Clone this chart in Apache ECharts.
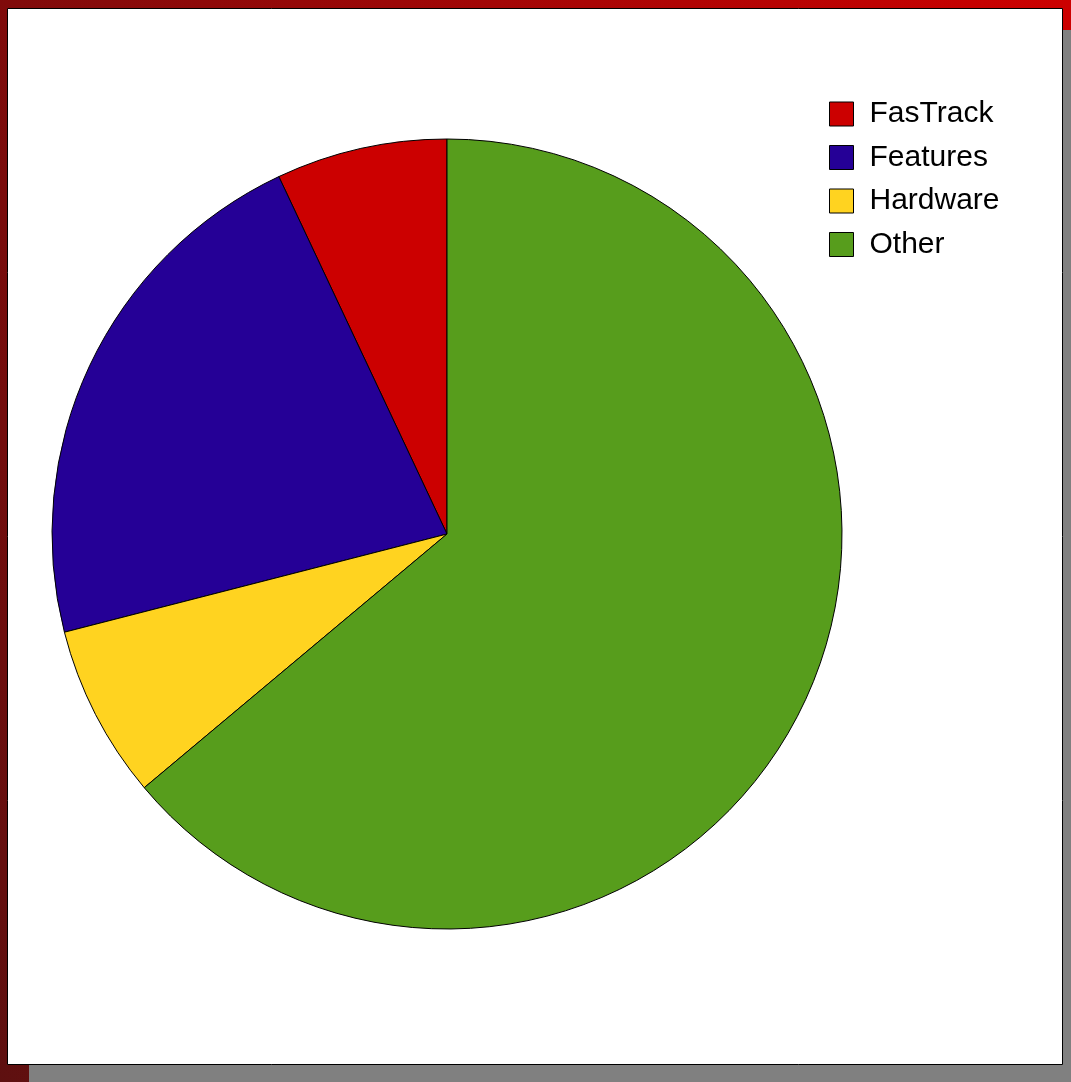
<!DOCTYPE html>
<html>
<head>
<meta charset="utf-8">
<script src="https://cdn.jsdelivr.net/npm/echarts@6/dist/echarts.min.js"></script>
<style>
  html, body { margin: 0; padding: 0; }
  #chart { width: 1071px; height: 1082px; }
</style>
</head>
<body>
<div id="chart"></div>
<script>
const categories = ['FasTrack', 'Features', 'Hardware', 'Other'];
const values = [7.0, 22.0, 7.1, 63.9];
const colors = ['#cc0000', '#250096', '#ffd320', '#579d1c'];

const chart = echarts.init(document.getElementById('chart'), null, { renderer: 'canvas' });

const option = {
  animation: false,
  graphic: [
    {
      type: 'rect', z: 0,
      shape: { x: 0, y: 0, width: 1071, height: 1082 },
      style: {
        fill: new echarts.graphic.LinearGradient(0, 1, 1.207, 0.483, [
          { offset: 0, color: '#5e1010' },
          { offset: 1, color: '#cc0000' }
        ])
      }
    },
    {
      type: 'rect', z: 1,
      shape: { x: 29, y: 30, width: 1042, height: 1052 },
      style: { fill: '#808080' }
    },
    {
      type: 'rect', z: 1,
      shape: { x: 7.5, y: 8.5, width: 1055, height: 1056 },
      style: { fill: '#ffffff', stroke: '#000000', lineWidth: 1 }
    }
  ],
  legend: {
    orient: 'vertical',
    left: 829,
    top: 99,
    padding: 0,
    itemWidth: 24,
    itemHeight: 24,
    itemGap: 13.5,
    icon: 'rect',
    selectedMode: false,
    itemStyle: { borderColor: '#000000', borderWidth: 1 },
    textStyle: {
      fontSize: 30,
      fontFamily: 'Liberation Sans',
      color: '#000000',
      padding: [0, 0, 0, 11]
    },
    data: categories
  },
  series: [
    {
      type: 'pie',
      z: 2,
      center: [447, 534],
      radius: 395,
      startAngle: 90,
      clockwise: false,
      avoidLabelOverlap: false,
      label: { show: false },
      labelLine: { show: false },
      emphasis: { disabled: true },
      itemStyle: { borderColor: '#000000', borderWidth: 1 },
      data: categories.map((c, i) => ({
        name: c,
        value: values[i],
        itemStyle: { color: colors[i] }
      }))
    }
  ]
};

chart.setOption(option);
</script>
</body>
</html>
